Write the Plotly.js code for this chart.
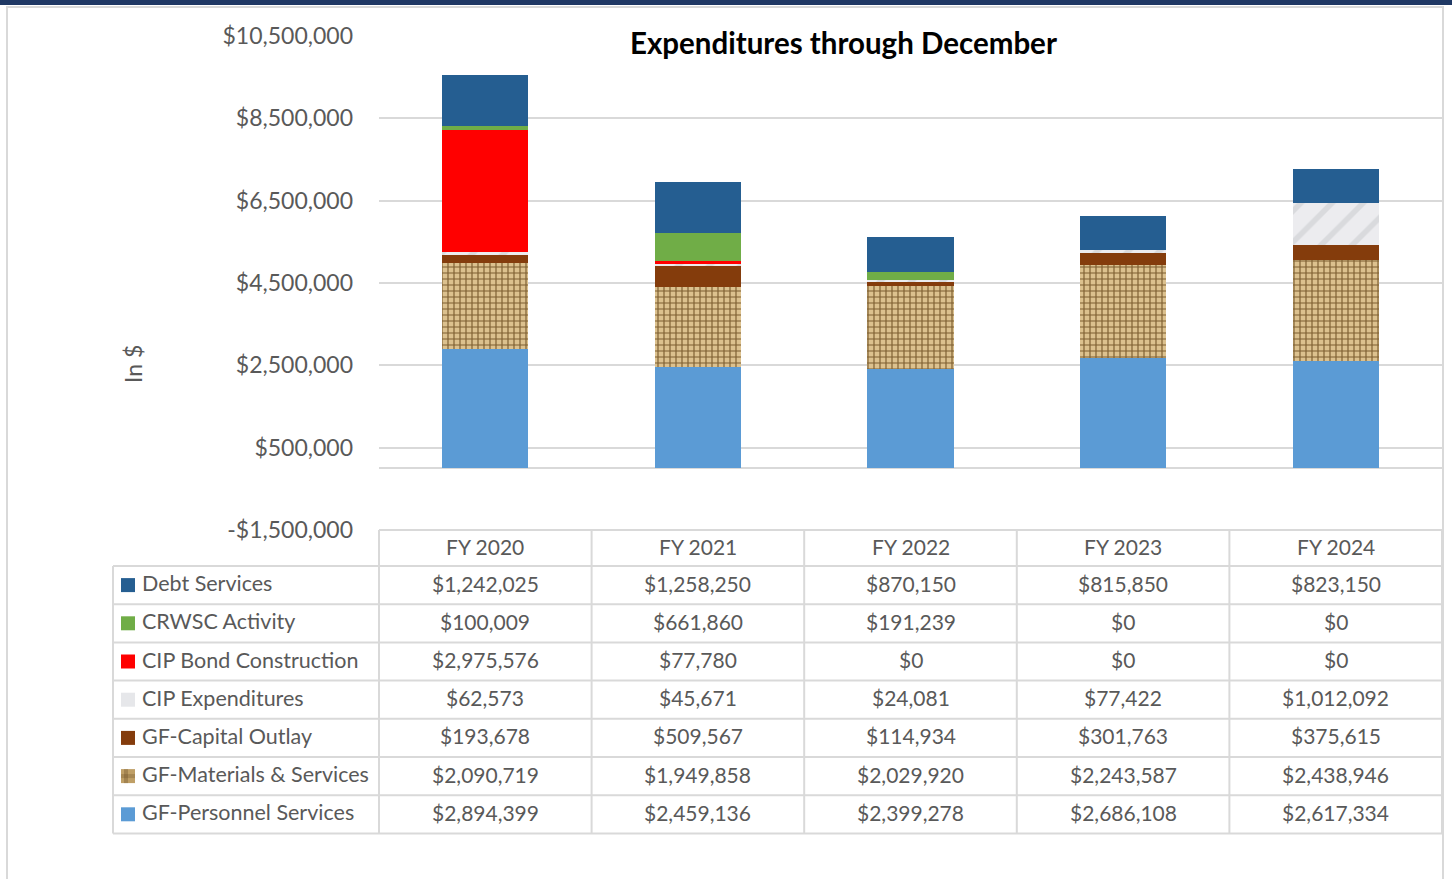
<!DOCTYPE html>
<html>
<head>
<meta charset="utf-8">
<script src="https://cdn.plot.ly/plotly-3.0.1.min.js"></script>
<style>html,body{margin:0;padding:0;background:#fff;}#chart{width:1452px;height:879px;}</style>
</head>
<body>
<div id="chart"></div>
<script>
const categories = ['FY 2020', 'FY 2021', 'FY 2022', 'FY 2023', 'FY 2024'];
const debtServices = [1242025, 1258250, 870150, 815850, 823150];
const crwscActivity = [100009, 661860, 191239, 0, 0];
const cipBondConstruction = [2975576, 77780, 0, 0, 0];
const cipExpenditures = [62573, 45671, 24081, 77422, 1012092];
const gfCapitalOutlay = [193678, 509567, 114934, 301763, 375615];
const gfMaterialsServices = [2090719, 1949858, 2029920, 2243587, 2438946];
const gfPersonnelServices = [2894399, 2459136, 2399278, 2686108, 2617334];
const seriesNames = ['Debt Services', 'CRWSC Activity', 'CIP Bond Construction', 'CIP Expenditures',
                     'GF-Capital Outlay', 'GF-Materials & Services', 'GF-Personnel Services'];
const yTickVals = [-1500000, 500000, 2500000, 4500000, 6500000, 8500000, 10500000];
const chartTitle = 'Expenditures through December';
const yTitle = 'In $';

// table rows (top to bottom) and their styles
const rowData = [debtServices, crwscActivity, cipBondConstruction, cipExpenditures,
                 gfCapitalOutlay, gfMaterialsServices, gfPersonnelServices];
const rowColors = ['#255e91', '#70ad47', '#ff0000', '#e6e7ea', '#843c0c', '#bf9f66', '#5b9bd5'];

const fmt = v => (v < 0 ? '-$' : '$') + Math.abs(v).toLocaleString('en-US');

const FONT = 'Lato, "Open Sans", sans-serif';
const GREY = '#595959';
const LINE = '#d9d9d9';

// pixel -> paper helpers (plot area: x 379..1442, y 36..530)
const L = 379, R = 1442, T = 36, B = 530;
const xp = px => (px - L) / (R - L);
const yp = py => (B - py) / (B - T);

const patterns = [
  null, null, null,
  {shape: '/', fgcolor: '#d9dadd', bgcolor: '#ececef', size: 22, solidity: 0.25},
  null,
  {shape: '+', fgcolor: '#7d5e30', bgcolor: '#dcc18e', size: 6, solidity: 0.35},
  null
];

const traces = [];
for (let i = rowData.length - 1; i >= 0; i--) {
  const m = {color: rowColors[i], line: {width: 0}};
  if (patterns[i]) m.pattern = patterns[i];
  traces.push({
    type: 'bar', name: seriesNames[i], x: categories, y: rowData[i],
    marker: m, hoverinfo: 'x+y+name', showlegend: false
  });
}

const shapes = [];
const annotations = [];

// top navy band and outer frame
shapes.push({type: 'rect', xref: 'paper', yref: 'paper', x0: xp(0), x1: xp(1452), y0: yp(0), y1: yp(5),
             fillcolor: '#1f3864', line: {width: 0}});
shapes.push({type: 'rect', xref: 'paper', yref: 'paper', x0: xp(7), x1: xp(1443), y0: yp(7), y1: yp(900),
             fillcolor: 'rgba(0,0,0,0)', line: {color: LINE, width: 2}});

// table grid
const headerTop = 530, rowTop = 566, rowH = 38.2;
const nRows = rowData.length;
const tableBottom = rowTop + nRows * rowH;
const colW = (R - L) / categories.length;
for (let c = 0; c <= categories.length; c++) {
  const x = L + c * colW;
  shapes.push({type: 'line', xref: 'paper', yref: 'paper', x0: xp(x), x1: xp(x), y0: yp(headerTop), y1: yp(tableBottom),
               line: {color: LINE, width: 2}});
}
shapes.push({type: 'line', xref: 'paper', yref: 'paper', x0: xp(113), x1: xp(113), y0: yp(rowTop), y1: yp(tableBottom),
             line: {color: LINE, width: 2}});
shapes.push({type: 'line', xref: 'paper', yref: 'paper', x0: xp(L), x1: xp(R), y0: yp(headerTop), y1: yp(headerTop),
             line: {color: LINE, width: 2}});
for (let r = 0; r <= nRows; r++) {
  const y = rowTop + r * rowH;
  shapes.push({type: 'line', xref: 'paper', yref: 'paper', x0: xp(113), x1: xp(R), y0: yp(y), y1: yp(y),
               line: {color: LINE, width: 2}});
}

const TXT_DY = -2;
// header labels
categories.forEach(c => {
  annotations.push({xref: 'x', yref: 'paper', x: c, y: yp((headerTop + rowTop) / 2 + TXT_DY), text: c,
                    showarrow: false, font: {family: FONT, size: 21, color: GREY}, xanchor: 'center', yanchor: 'middle'});
});

// rows
rowData.forEach((vals, r) => {
  const cy = rowTop + r * rowH + rowH / 2;
  shapes.push({type: 'rect', xref: 'paper', yref: 'paper', x0: xp(121), x1: xp(135), y0: yp(cy - 7), y1: yp(cy + 7),
               fillcolor: rowColors[r], line: {width: 0}});
  annotations.push({xref: 'paper', yref: 'paper', x: xp(140), y: yp(cy + TXT_DY), text: seriesNames[r],
                    showarrow: false, font: {family: FONT, size: 21.5, color: GREY}, xanchor: 'left', yanchor: 'middle'});
  vals.forEach((v, c) => {
    annotations.push({xref: 'x', yref: 'paper', x: categories[c], y: yp(cy + TXT_DY), text: fmt(v),
                      showarrow: false, font: {family: FONT, size: 21, color: GREY}, xanchor: 'center', yanchor: 'middle'});
  });
});

// texture hint on materials legend key
const mk = rowTop + 5 * rowH + rowH / 2;
shapes.push({type: 'rect', xref: 'paper', yref: 'paper', x0: xp(124), x1: xp(128), y0: yp(mk - 7), y1: yp(mk + 7),
             fillcolor: 'rgba(110,80,40,0.35)', line: {width: 0}});
shapes.push({type: 'rect', xref: 'paper', yref: 'paper', x0: xp(121), x1: xp(135), y0: yp(mk - 2), y1: yp(mk + 2),
             fillcolor: 'rgba(110,80,40,0.3)', line: {width: 0}});

// title
annotations.push({xref: 'paper', yref: 'paper', x: xp(843), y: yp(42), text: '<b>' + chartTitle + '</b>',
                  showarrow: false, font: {family: FONT, size: 29.5, color: '#000000'}, xanchor: 'center', yanchor: 'middle',
                  bgcolor: '#ffffff', borderpad: 2});
// y title
annotations.push({xref: 'paper', yref: 'paper', x: xp(133), y: yp(364), text: yTitle, textangle: -90,
                  showarrow: false, font: {family: FONT, size: 23, color: GREY}, xanchor: 'center', yanchor: 'middle'});

const layout = {
  width: 1452, height: 879, autosize: false,
  margin: {l: L, r: 1452 - R, t: T, b: 879 - B, pad: 0},
  paper_bgcolor: '#ffffff', plot_bgcolor: '#ffffff',
  barmode: 'stack', bargap: 0.595,
  showlegend: false,
  font: {family: FONT, color: GREY},
  xaxis: {showticklabels: false, showgrid: false, zeroline: false, showline: false, ticks: '',
          type: 'category', categoryorder: 'array', categoryarray: categories, fixedrange: true},
  yaxis: {range: [-1500000, 10500000], tickvals: yTickVals, ticktext: yTickVals.map(fmt),
          showgrid: true, gridcolor: LINE, gridwidth: 2, zeroline: true, zerolinecolor: LINE, zerolinewidth: 2,
          showline: false, ticks: '', ticklabelstandoff: 25,
          tickfont: {family: FONT, size: 23, color: GREY}, fixedrange: true},
  shapes: shapes,
  annotations: annotations
};

Plotly.newPlot('chart', traces, layout, {displayModeBar: false});
</script>
</body>
</html>
